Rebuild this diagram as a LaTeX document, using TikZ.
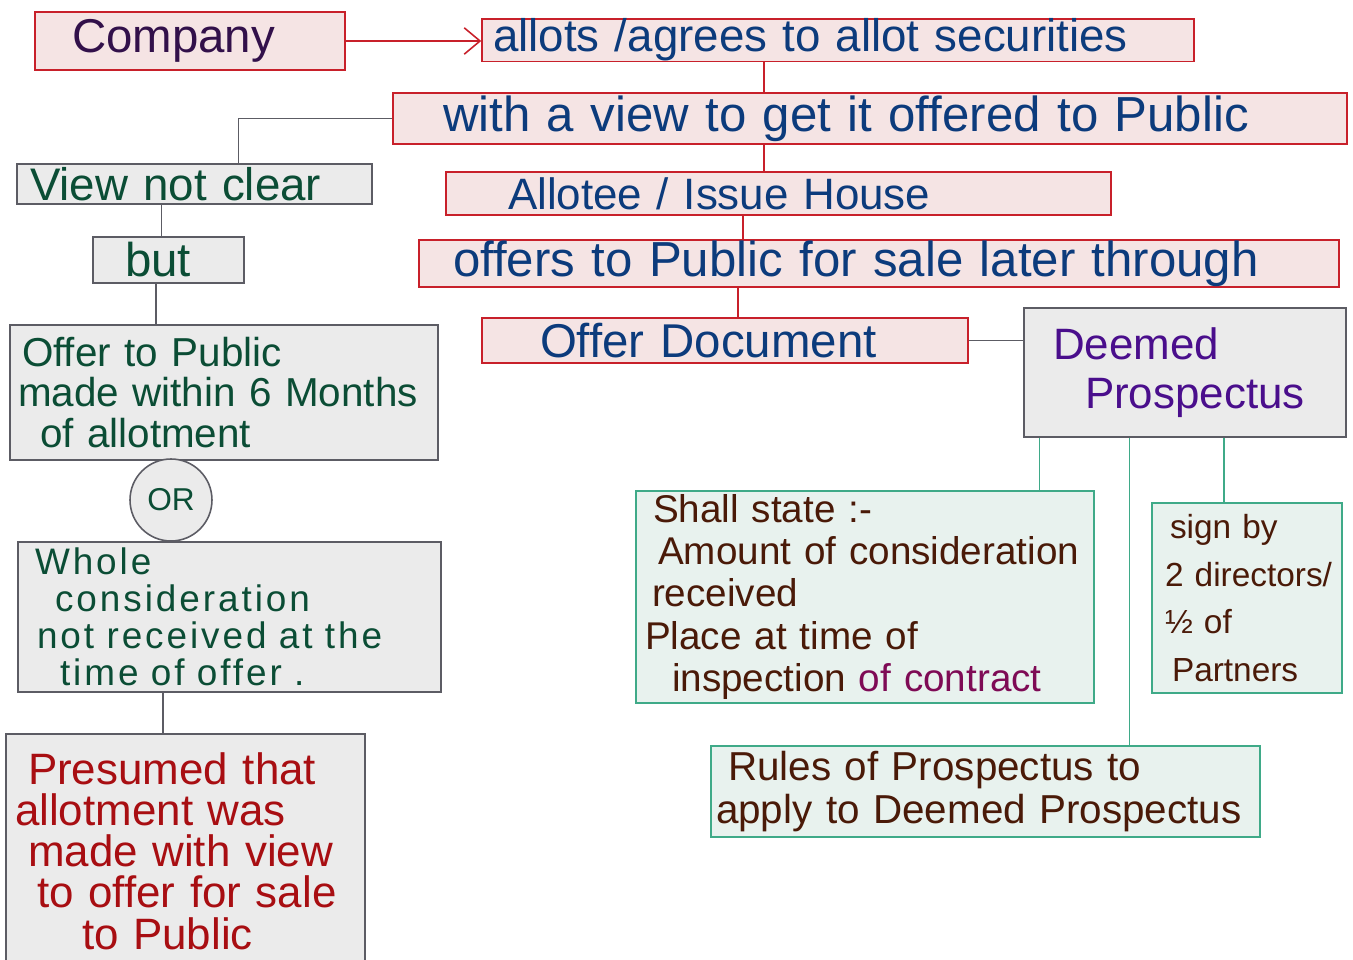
\documentclass[tikz,border=0pt]{standalone}
\usepackage{fontspec}
\setmainfont{Liberation Sans}
\usepackage{xcolor}
\definecolor{NoteRed}{HTML}{C8202A}
\definecolor{NotePink}{HTML}{F5E4E4}
\definecolor{NoteGreyLine}{HTML}{5C5C64}
\definecolor{NoteGrey}{HTML}{EBEBEB}
\definecolor{NoteTeal}{HTML}{3FAA88}
\definecolor{NoteMint}{HTML}{E8F2EE}
\definecolor{InkBlue}{HTML}{0C3B7C}
\definecolor{InkPlum}{HTML}{32104A}
\definecolor{InkViolet}{HTML}{4A0E8C}
\definecolor{InkGreen}{HTML}{0B4D35}
\definecolor{InkRed}{HTML}{A80E12}
\definecolor{InkBrown}{HTML}{4A1A08}
\definecolor{InkMagenta}{HTML}{7E0B55}
\usetikzlibrary{calc, arrows.meta, positioning}
\newcommand{\inksize}[2]{\fontsize{#1}{#2}\selectfont}

\begin{document}
\begin{tikzpicture}[x=0.02cm, y=-0.02cm,
  pinkbox/.style={draw=NoteRed, fill=NotePink, line width=0.9pt, inner sep=0pt, align=left},
  greybox/.style={draw=NoteGreyLine, fill=NoteGrey, line width=0.9pt, inner sep=0pt, align=left},
  mintbox/.style={draw=NoteTeal, fill=NoteMint, line width=0.9pt, inner sep=0pt, align=left},
  redlink/.style={draw=NoteRed, line width=0.9pt},
  greylink/.style={draw=NoteGreyLine, line width=0.9pt},
  teallink/.style={draw=NoteTeal, line width=0.9pt}]
\useasboundingbox (0,0) rectangle (1353,960);
% Red chain: company to offer document
\node[pinkbox, minimum width=6.2cm, minimum height=1.16cm, text width=4.72cm,
  text=InkPlum, font=\inksize{27}{30}] (company) at (190,41) {Company};
\node[pinkbox, minimum width=14.24cm, minimum height=0.8cm, text width=13.8cm,
  text=InkBlue, font=\inksize{26}{30}] (allot) at (838,40)
  {allots /agrees to allot securities};
\node[pinkbox, minimum width=19.08cm, minimum height=1.02cm, text width=17.08cm,
  text=InkBlue, font=\inksize{28}{30}] (view) at (870,118.5)
  {with a view to get it offered to Public};
\node[pinkbox, minimum width=13.3cm, minimum height=0.86cm, text width=10.82cm,
  text=InkBlue, font=\inksize{25}{30}] (allotee) at (778.5,193.5)
  {Allotee / Issue House};
\node[pinkbox, minimum width=18.4cm, minimum height=0.94cm, text width=17.04cm,
  text=InkBlue, font=\inksize{28}{30}] (offers) at (879,263.5)
  {offers to Public for sale later through};
\node[pinkbox, minimum width=9.72cm, minimum height=0.9cm, text width=7.4cm,
  text=InkBlue, font=\inksize{27}{30}] (offerdoc) at (725,340.5)
  {Offer Document};
\draw[redlink, -{Straight Barb[length=9pt, width=15pt]}] (company.east) -- (company.east -| allot.west);
\coordinate (allotfoot) at ($(allot.south west)!0.396!(allot.south east)$);
\draw[redlink] (allotfoot) -- (allotfoot |- view.north);
\coordinate (viewfoot) at ($(view.south west)!0.389!(view.south east)$);
\draw[redlink] (viewfoot) -- (viewfoot |- allotee.north);
\coordinate (alloteefoot) at ($(allotee.south west)!0.447!(allotee.south east)$);
\draw[redlink] (alloteefoot) -- (alloteefoot |- offers.north);
\coordinate (offersfoot) at ($(offers.south west)!0.347!(offers.south east)$);
\draw[redlink] (offersfoot) -- (offersfoot |- offerdoc.north);
% Left column: view not clear
\node[greybox, minimum width=7.1cm, minimum height=0.8cm, text width=6.58cm,
  text=InkGreen, font=\inksize{26}{30}] (notclear) at (194.5,184) {View not clear};
\node[greybox, minimum width=3.02cm, minimum height=0.92cm, text width=1.74cm,
  text=InkGreen, font=\inksize{27}{30}] (but) at (168.5,260) {but};
\node[greybox, minimum width=8.56cm, minimum height=2.7cm, text width=8.24cm,
  text=InkGreen, font=\inksize{23}{23}] (within) at (224,392.5)
  {\hspace*{0.08cm}Offer to Public\\made within 6 Months\\\hspace*{0.44cm}of allotment};
\node[greybox, circle, minimum size=1.64cm, text=InkGreen, font=\inksize{18}{20}]
  (or) at (171,500) {OR};
\node[greybox, minimum width=8.46cm, minimum height=3.0cm, text width=7.78cm,
  text=InkGreen, font=\inksize{21}{21}\addfontfeature{LetterSpace=8}] (whole) at (229.5,617)
  {Whole\\\hspace*{0.4cm}consideration\\\hspace*{0.04cm}not received at the\\\hspace*{0.5cm}time of offer .};
\node[greybox, minimum width=7.18cm, minimum height=4.68cm, text width=6.82cm,
  text=InkRed, font=\inksize{25}{23.5}] (presumed) at (185.5,851)
  {\hspace*{0.26cm}Presumed that\\allotment was\\\hspace*{0.26cm}made with view\\\hspace*{0.44cm}to offer for sale\\\hspace*{1.34cm}to Public};
\coordinate (notcleartop) at ($(notclear.north west)!0.623!(notclear.north east)$);
\draw[greylink] (view.west) -| (notcleartop);
\coordinate (notclearfoot) at ($(notclear.south west)!0.408!(notclear.south east)$);
\draw[greylink] (notclearfoot) -- (notclearfoot |- but.north);
\coordinate (butfoot) at ($(but.south west)!0.417!(but.south east)$);
\draw[greylink] (butfoot) -- (butfoot |- within.north);
\coordinate (wholefoot) at ($(whole.south west)!0.343!(whole.south east)$);
\draw[greylink] (wholefoot) -- (wholefoot |- presumed.north);
% Deemed prospectus and its rules
\node[greybox, minimum width=6.44cm, minimum height=2.58cm, text width=5.28cm,
  text=InkViolet, font=\inksize{25}{28}] (deemed) at (1185,372.5)
  {Deemed\\\hspace*{0.64cm}Prospectus};
\node[mintbox, minimum width=9.16cm, minimum height=4.24cm, text width=8.8cm,
  text=InkBrown, font=\inksize{22}{24}] (shall) at (865,597)
  {\hspace*{0.16cm}Shall state :-\\\hspace*{0.26cm}Amount of consideration\\\hspace*{0.14cm}received\\Place at time of\\\hspace*{0.54cm}inspection {\color{InkMagenta}of contract}};
\node[mintbox, minimum width=3.8cm, minimum height=3.8cm, text width=3.48cm,
  text=InkBrown, font=\inksize{19}{27}] (sign) at (1247,598)
  {\hspace*{0.2cm}sign by\\\hspace*{0.1cm}2 directors/\\\hspace*{0.1cm}½ of\\\hspace*{0.24cm}Partners};
\node[mintbox, minimum width=10.98cm, minimum height=1.82cm, text width=10.78cm,
  text=InkBrown, font=\inksize{23}{24}] (rules) at (985.5,791.5)
  {\hspace*{0.24cm}Rules of Prospectus to\\apply to Deemed Prospectus};
\draw[greylink] (offerdoc.east) -- (offerdoc.east -| deemed.west);
\coordinate (deemedleft) at ($(deemed.south west)!0.05!(deemed.south east)$);
\draw[teallink] (deemedleft) -- (deemedleft |- shall.north);
\coordinate (deemedmid) at ($(deemed.south west)!0.329!(deemed.south east)$);
\draw[teallink] (deemedmid) -- (deemedmid |- rules.north);
\coordinate (deemedright) at ($(deemed.south west)!0.621!(deemed.south east)$);
\draw[teallink] (deemedright) -- (deemedright |- sign.north);
\end{tikzpicture}
\end{document}
